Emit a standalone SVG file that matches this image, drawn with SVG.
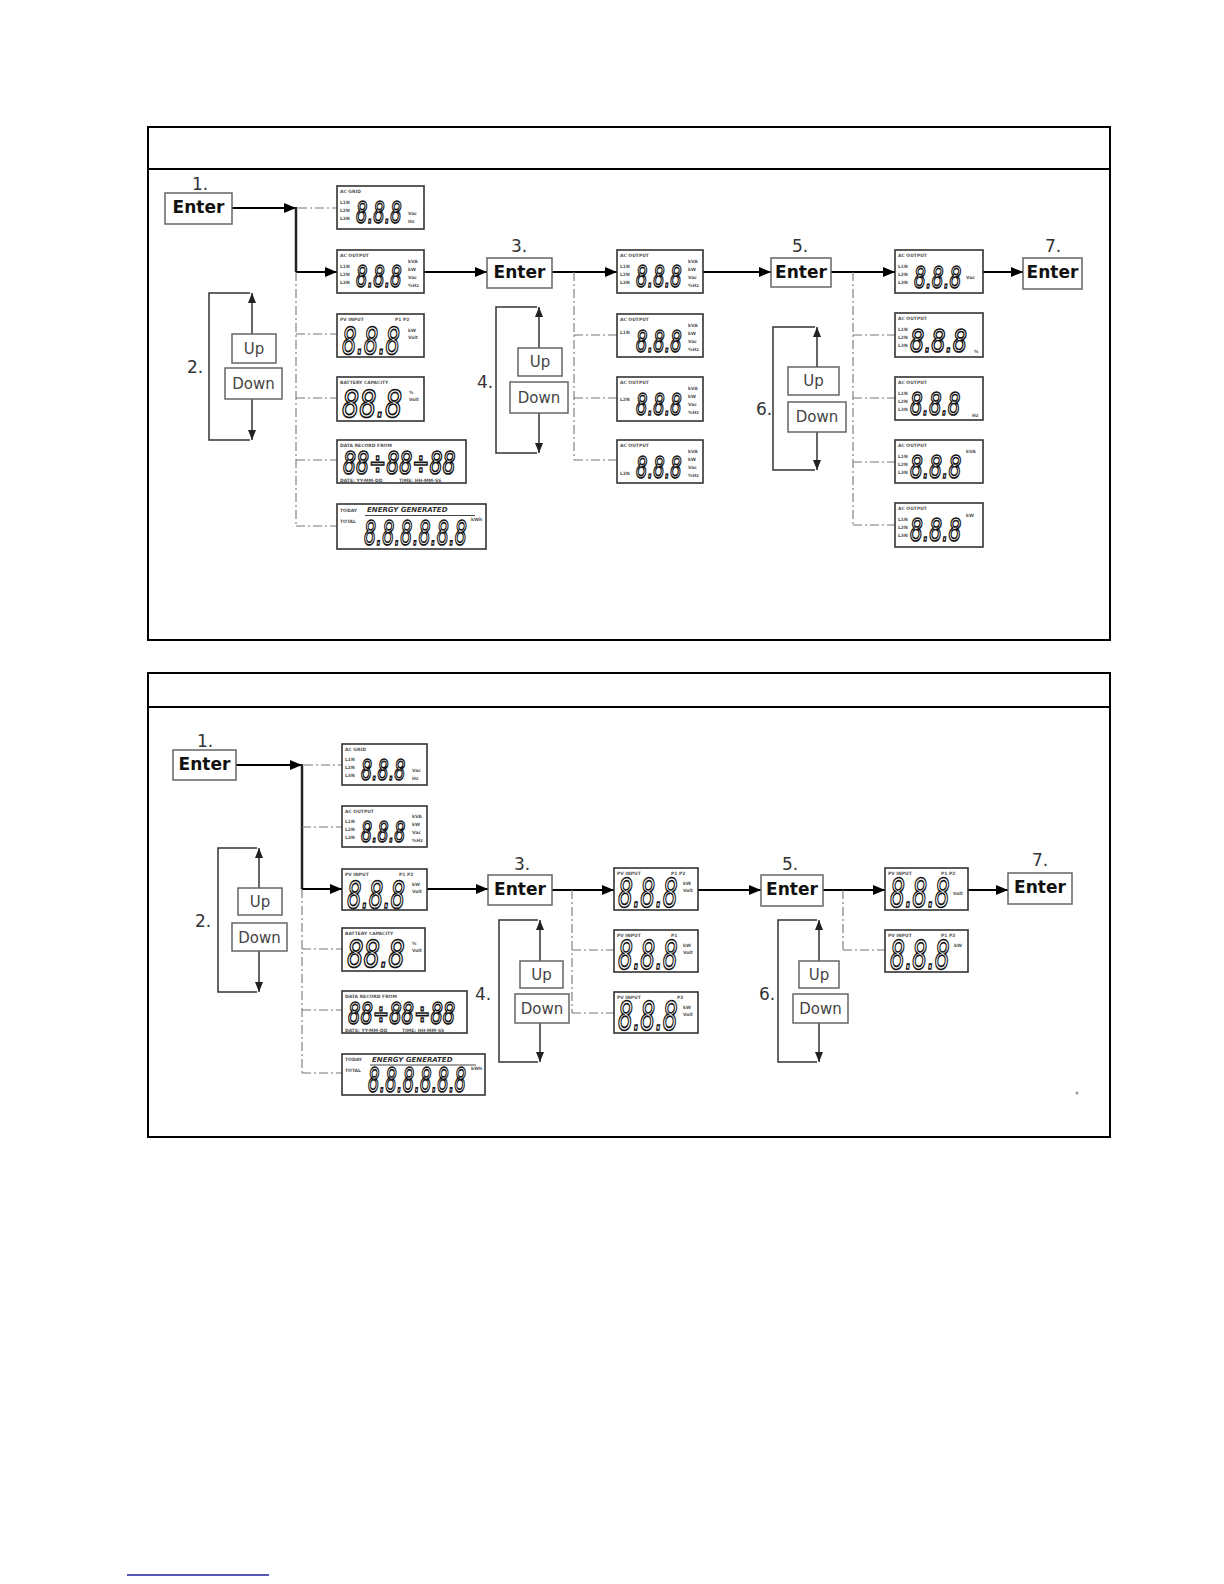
<svg xmlns="http://www.w3.org/2000/svg" width="1224" height="1584" viewBox="0 0 1224 1584">
<style>
.panel{fill:none;stroke:#000;stroke-width:2}
.lcd{fill:#fff;stroke:#333;stroke-width:1.6}
.btn{fill:#fff;stroke:#666;stroke-width:1.5}
.enter{font-family:"DejaVu Sans",sans-serif;font-weight:bold;font-size:17px;fill:#111}
.ud{font-family:"DejaVu Sans",sans-serif;font-size:15px;fill:#444}
.num{font-family:"DejaVu Sans",sans-serif;font-size:17px;fill:#333}
.t{font-family:"DejaVu Sans",sans-serif;font-size:4.5px;font-weight:bold;fill:#555}
.tb{font-family:"DejaVu Sans",sans-serif;font-size:7px;font-weight:bold;font-style:italic;fill:#333}
.seg{font-family:"DejaVu Sans",sans-serif;font-style:oblique;fill:#fff;stroke:#111;stroke-width:1.7;opacity:0.99}
.main{stroke:#000;stroke-width:2;fill:none}
.vert{stroke:#222;stroke-width:2.5;fill:none}
.dd{stroke:#777;stroke-width:1.1;stroke-dasharray:9 3 2 3;fill:none}
.br{stroke:#333;stroke-width:1.5;fill:none}
</style>
<defs>
<marker id="ah" markerWidth="12" markerHeight="10" refX="12" refY="5" orient="auto" markerUnits="userSpaceOnUse"><path d="M0,0L12,5L0,10z" fill="#000"/></marker>
<marker id="sh" markerWidth="10" markerHeight="8" refX="10" refY="4" orient="auto" markerUnits="userSpaceOnUse"><path d="M0,0L10,4L0,8z" fill="#222"/></marker>
</defs>
<rect width="1224" height="1584" fill="#fff"/>

<g id="panel-top">
<rect class="panel" x="148" y="127" width="962" height="513"/>
<line class="panel" x1="148" y1="169" x2="1110" y2="169"/>
</g>
<g id="panel-bottom">
<rect class="panel" x="148" y="673" width="962" height="464"/>
<line class="panel" x1="148" y1="707" x2="1110" y2="707"/>
</g>

<g id="connectors">
<line class="main" x1="232" y1="208" x2="296" y2="208" marker-end="url(#ah)"/>
<line class="vert" x1="296" y1="207" x2="296" y2="272"/>
<line class="main" x1="296" y1="272" x2="337" y2="272" marker-end="url(#ah)"/>
<line class="dd" x1="296" y1="272" x2="296" y2="526"/>
<line class="dd" x1="298" y1="208" x2="337" y2="208"/>
<line class="dd" x1="296" y1="334" x2="337" y2="334"/>
<line class="dd" x1="296" y1="398" x2="337" y2="398"/>
<line class="dd" x1="296" y1="460" x2="337" y2="460"/>
<line class="dd" x1="296" y1="526" x2="337" y2="526"/>
<line class="main" x1="424" y1="272" x2="487" y2="272" marker-end="url(#ah)"/>
<line class="main" x1="552" y1="272" x2="617" y2="272" marker-end="url(#ah)"/>
<line class="dd" x1="574" y1="272" x2="574" y2="460"/>
<line class="dd" x1="574" y1="335" x2="617" y2="335"/>
<line class="dd" x1="574" y1="398" x2="617" y2="398"/>
<line class="dd" x1="574" y1="460" x2="617" y2="460"/>
<line class="main" x1="703" y1="272" x2="771" y2="272" marker-end="url(#ah)"/>
<line class="main" x1="831" y1="272" x2="895" y2="272" marker-end="url(#ah)"/>
<line class="dd" x1="853" y1="272" x2="853" y2="525"/>
<line class="dd" x1="853" y1="335" x2="895" y2="335"/>
<line class="dd" x1="853" y1="398" x2="895" y2="398"/>
<line class="dd" x1="853" y1="462" x2="895" y2="462"/>
<line class="dd" x1="853" y1="525" x2="895" y2="525"/>
<line class="main" x1="983" y1="272" x2="1023" y2="272" marker-end="url(#ah)"/>
<path class="br" d="M250,293 L209,293 L209,440 L250,440"/>
<line class="br" x1="252" y1="334" x2="252" y2="293" marker-end="url(#sh)"/>
<line class="br" x1="252" y1="399" x2="252" y2="440" marker-end="url(#sh)"/>
<path class="br" d="M537,307 L496,307 L496,453 L537,453"/>
<line class="br" x1="539" y1="348" x2="539" y2="307" marker-end="url(#sh)"/>
<line class="br" x1="539" y1="413" x2="539" y2="453" marker-end="url(#sh)"/>
<path class="br" d="M815,327 L773,327 L773,470 L815,470"/>
<line class="br" x1="817" y1="367" x2="817" y2="327" marker-end="url(#sh)"/>
<line class="br" x1="817" y1="432" x2="817" y2="470" marker-end="url(#sh)"/>

<line class="main" x1="236" y1="765" x2="302" y2="765" marker-end="url(#ah)"/>
<line class="vert" x1="302" y1="764" x2="302" y2="889"/>
<line class="main" x1="302" y1="889" x2="342" y2="889" marker-end="url(#ah)"/>
<line class="dd" x1="302" y1="889" x2="302" y2="1073"/>
<line class="dd" x1="304" y1="765" x2="342" y2="765"/>
<line class="dd" x1="302" y1="827" x2="342" y2="827"/>
<line class="dd" x1="302" y1="949" x2="342" y2="949"/>
<line class="dd" x1="302" y1="1010" x2="342" y2="1010"/>
<line class="dd" x1="302" y1="1073" x2="342" y2="1073"/>
<line class="main" x1="427" y1="889" x2="488" y2="889" marker-end="url(#ah)"/>
<line class="main" x1="552" y1="890" x2="614" y2="890" marker-end="url(#ah)"/>
<line class="dd" x1="572" y1="890" x2="572" y2="1013"/>
<line class="dd" x1="572" y1="950" x2="614" y2="950"/>
<line class="dd" x1="572" y1="1013" x2="614" y2="1013"/>
<line class="main" x1="698" y1="890" x2="761" y2="890" marker-end="url(#ah)"/>
<line class="main" x1="823" y1="890" x2="885" y2="890" marker-end="url(#ah)"/>
<line class="dd" x1="843" y1="890" x2="843" y2="950"/>
<line class="dd" x1="843" y1="950" x2="885" y2="950"/>
<line class="main" x1="968" y1="890" x2="1008" y2="890" marker-end="url(#ah)"/>
<path class="br" d="M257,848 L218,848 L218,992 L257,992"/>
<line class="br" x1="259" y1="888" x2="259" y2="848" marker-end="url(#sh)"/>
<line class="br" x1="259" y1="951" x2="259" y2="992" marker-end="url(#sh)"/>
<path class="br" d="M538,920 L499,920 L499,1062 L538,1062"/>
<line class="br" x1="540" y1="961" x2="540" y2="920" marker-end="url(#sh)"/>
<line class="br" x1="540" y1="1023" x2="540" y2="1062" marker-end="url(#sh)"/>
<path class="br" d="M817,920 L778,920 L778,1062 L817,1062"/>
<line class="br" x1="819" y1="961" x2="819" y2="920" marker-end="url(#sh)"/>
<line class="br" x1="819" y1="1023" x2="819" y2="1062" marker-end="url(#sh)"/>
</g>

<!-- TOP PANEL NODES -->
<g id="t-enter1"><text class="num" x="200" y="190" text-anchor="middle">1.</text><rect class="btn" x="165" y="193" width="67" height="31"/><text class="enter" x="198.5" y="213" text-anchor="middle">Enter</text></g>
<g id="t-updown2"><text class="num" x="187" y="373">2.</text><rect class="btn" x="232" y="334" width="44" height="29"/><text class="ud" x="254" y="354" text-anchor="middle">Up</text><rect class="btn" x="225" y="368" width="57" height="31"/><text class="ud" x="253.5" y="389" text-anchor="middle">Down</text></g>
<g id="t-enter3"><text class="num" x="519" y="252" text-anchor="middle">3.</text><rect class="btn" x="487" y="258" width="65" height="30"/><text class="enter" x="519.5" y="278" text-anchor="middle">Enter</text></g>
<g id="t-updown4"><text class="num" x="477" y="388">4.</text><rect class="btn" x="518" y="348" width="44" height="28"/><text class="ud" x="540" y="367" text-anchor="middle">Up</text><rect class="btn" x="510" y="382" width="58" height="31"/><text class="ud" x="539" y="403" text-anchor="middle">Down</text></g>
<g id="t-enter5"><text class="num" x="800" y="252" text-anchor="middle">5.</text><rect class="btn" x="771" y="258" width="60" height="29"/><text class="enter" x="801" y="278" text-anchor="middle">Enter</text></g>
<g id="t-updown6"><text class="num" x="756" y="415">6.</text><rect class="btn" x="788" y="367" width="51" height="28"/><text class="ud" x="813.5" y="386" text-anchor="middle">Up</text><rect class="btn" x="788" y="402" width="58" height="30"/><text class="ud" x="817" y="422" text-anchor="middle">Down</text></g>
<g id="t-enter7"><text class="num" x="1053" y="252" text-anchor="middle">7.</text><rect class="btn" x="1023" y="258" width="59" height="31"/><text class="enter" x="1052.5" y="278" text-anchor="middle">Enter</text></g>

<g id="t-lcd-acgrid" transform="translate(337,186)">
<rect class="lcd" width="87" height="43"/>
<text class="t" x="3" y="7">AC GRID</text>
<text class="t" x="3" y="18">L1N</text><text class="t" x="3" y="26">L2N</text><text class="t" x="3" y="34">L3N</text>
<text class="seg" transform="translate(19,37) scale(0.6,1)" font-size="30">8.8.8</text>
<text class="t" x="71" y="29">Vac</text><text class="t" x="71" y="37">Hz</text>
</g>
<g id="t-lcd-acoutput" transform="translate(337,250)">
<rect class="lcd" width="87" height="43"/>
<text class="t" x="3" y="7">AC OUTPUT</text>
<text class="t" x="3" y="18">L1N</text><text class="t" x="3" y="26">L2N</text><text class="t" x="3" y="34">L3N</text>
<text class="seg" transform="translate(19,37) scale(0.6,1)" font-size="30">8.8.8</text>
<text class="t" x="71" y="13">kVA</text><text class="t" x="71" y="21">kW</text><text class="t" x="71" y="29">Vac</text><text class="t" x="71" y="37">%Hz</text>
</g>
<g id="t-lcd-pvinput" transform="translate(337,314)">
<rect class="lcd" width="87" height="43"/>
<text class="t" x="3" y="7">PV INPUT</text><text class="t" x="58" y="7">P1 P2</text>
<text class="seg" transform="translate(5,40) scale(0.6,1)" font-size="38">8.8.8</text>
<text class="t" x="71" y="18">kW</text><text class="t" x="71" y="25">Volt</text>
</g>
<g id="t-lcd-battery" transform="translate(337,377)">
<rect class="lcd" width="87" height="44"/>
<text class="t" x="3" y="7">BATTERY CAPACITY</text>
<text class="seg" transform="translate(5,40) scale(0.71,1)" font-size="38">88.8</text>
<text class="t" x="72" y="17">%</text><text class="t" x="72" y="24">Volt</text>
</g>
<g id="t-lcd-datarecord" transform="translate(337,440)">
<rect class="lcd" width="129" height="43"/>
<text class="t" x="3" y="7">DATA RECORD FROM</text>
<text class="seg" transform="translate(6,34) scale(0.64,1)" font-size="32">88÷88÷88</text>
<text class="t" x="3" y="41.5" font-size="4">DATE: YY-MM-DD</text><text class="t" x="62" y="41.5" font-size="4">TIME: HH-MM-SS</text>
</g>
<g id="t-lcd-energy" transform="translate(337,504)">
<rect class="lcd" width="149" height="45"/>
<text class="t" x="3" y="8">TODAY</text>
<text class="tb" x="30" y="8">ENERGY GENERATED</text>
<line x1="28" y1="11.5" x2="138" y2="11.5" stroke="#444" stroke-width="1"/>
<text class="t" x="3" y="19">TOTAL</text>
<text class="seg" transform="translate(27,41) scale(0.56,1)" font-size="34">8.8.8.8.8.8</text>
<text class="t" x="134" y="17">kWh</text>
</g>

<g id="t-lcd-c3-1" transform="translate(617,250)">
<rect class="lcd" width="86" height="43"/>
<text class="t" x="3" y="7">AC OUTPUT</text>
<text class="t" x="3" y="18">L1N</text><text class="t" x="3" y="26">L2N</text><text class="t" x="3" y="34">L3N</text>
<text class="seg" transform="translate(19,37) scale(0.6,1)" font-size="30">8.8.8</text>
<text class="t" x="71" y="13">kVA</text><text class="t" x="71" y="21">kW</text><text class="t" x="71" y="29">Vac</text><text class="t" x="71" y="37">%Hz</text>
</g>
<g id="t-lcd-c3-2" transform="translate(617,314)">
<rect class="lcd" width="86" height="43"/>
<text class="t" x="3" y="7">AC OUTPUT</text>
<text class="t" x="3" y="20">L1N</text>
<text class="seg" transform="translate(19,38) scale(0.6,1)" font-size="30">8.8.8</text>
<text class="t" x="71" y="13">kVA</text><text class="t" x="71" y="21">kW</text><text class="t" x="71" y="29">Vac</text><text class="t" x="71" y="37">%Hz</text>
</g>
<g id="t-lcd-c3-3" transform="translate(617,377)">
<rect class="lcd" width="86" height="44"/>
<text class="t" x="3" y="7">AC OUTPUT</text>
<text class="t" x="3" y="24">L2N</text>
<text class="seg" transform="translate(19,38) scale(0.6,1)" font-size="30">8.8.8</text>
<text class="t" x="71" y="13">kVA</text><text class="t" x="71" y="21">kW</text><text class="t" x="71" y="29">Vac</text><text class="t" x="71" y="37">%Hz</text>
</g>
<g id="t-lcd-c3-4" transform="translate(617,440)">
<rect class="lcd" width="86" height="43"/>
<text class="t" x="3" y="7">AC OUTPUT</text>
<text class="t" x="3" y="35">L3N</text>
<text class="seg" transform="translate(19,38) scale(0.6,1)" font-size="30">8.8.8</text>
<text class="t" x="71" y="13">kVA</text><text class="t" x="71" y="21">kW</text><text class="t" x="71" y="29">Vac</text><text class="t" x="71" y="37">%Hz</text>
</g>

<g id="t-lcd-c5-1" transform="translate(895,250)">
<rect class="lcd" width="88" height="43"/>
<text class="t" x="3" y="7">AC OUTPUT</text>
<text class="t" x="3" y="18">L1N</text><text class="t" x="3" y="26">L2N</text><text class="t" x="3" y="34">L3N</text>
<text class="seg" transform="translate(19,38) scale(0.6,1)" font-size="31">8.8.8</text>
<text class="t" x="71" y="29">Vac</text>
</g>
<g id="t-lcd-c5-2" transform="translate(895,313)">
<rect class="lcd" width="88" height="44"/>
<text class="t" x="3" y="7">AC OUTPUT</text>
<text class="t" x="3" y="18">L1N</text><text class="t" x="3" y="26">L2N</text><text class="t" x="3" y="34">L3N</text>
<text class="seg" transform="translate(15,39) scale(0.7,1)" font-size="32">8.8.8</text>
<text class="t" x="79" y="40">%</text>
</g>
<g id="t-lcd-c5-3" transform="translate(895,377)">
<rect class="lcd" width="88" height="43"/>
<text class="t" x="3" y="7">AC OUTPUT</text>
<text class="t" x="3" y="18">L1N</text><text class="t" x="3" y="26">L2N</text><text class="t" x="3" y="34">L3N</text>
<text class="seg" transform="translate(15,38) scale(0.62,1)" font-size="32">8.8.8</text>
<text class="t" x="77" y="40">Hz</text>
</g>
<g id="t-lcd-c5-4" transform="translate(895,440)">
<rect class="lcd" width="88" height="43"/>
<text class="t" x="3" y="7">AC OUTPUT</text>
<text class="t" x="3" y="18">L1N</text><text class="t" x="3" y="26">L2N</text><text class="t" x="3" y="34">L3N</text>
<text class="seg" transform="translate(15,38) scale(0.63,1)" font-size="32">8.8.8</text>
<text class="t" x="71" y="13">kVA</text>
</g>
<g id="t-lcd-c5-5" transform="translate(895,503)">
<rect class="lcd" width="88" height="44"/>
<text class="t" x="3" y="7">AC OUTPUT</text>
<text class="t" x="3" y="18">L1N</text><text class="t" x="3" y="26">L2N</text><text class="t" x="3" y="34">L3N</text>
<text class="seg" transform="translate(15,38) scale(0.63,1)" font-size="32">8.8.8</text>
<text class="t" x="71" y="14">kW</text>
</g>

<!-- BOTTOM PANEL NODES -->
<g id="b-enter1"><text class="num" x="205" y="747" text-anchor="middle">1.</text><rect class="btn" x="173" y="750" width="63" height="30"/><text class="enter" x="204.5" y="770" text-anchor="middle">Enter</text></g>
<g id="b-updown2"><text class="num" x="195" y="927">2.</text><rect class="btn" x="238" y="888" width="44" height="27"/><text class="ud" x="260" y="907" text-anchor="middle">Up</text><rect class="btn" x="232" y="923" width="55" height="28"/><text class="ud" x="259.5" y="943" text-anchor="middle">Down</text></g>
<g id="b-enter3"><text class="num" x="522" y="870" text-anchor="middle">3.</text><rect class="btn" x="488" y="875" width="64" height="30"/><text class="enter" x="520" y="895" text-anchor="middle">Enter</text></g>
<g id="b-updown4"><text class="num" x="475" y="1000">4.</text><rect class="btn" x="520" y="961" width="43" height="27"/><text class="ud" x="541.5" y="980" text-anchor="middle">Up</text><rect class="btn" x="515" y="994" width="54" height="29"/><text class="ud" x="542" y="1014" text-anchor="middle">Down</text></g>
<g id="b-enter5"><text class="num" x="790" y="870" text-anchor="middle">5.</text><rect class="btn" x="761" y="875" width="62" height="31"/><text class="enter" x="792" y="895" text-anchor="middle">Enter</text></g>
<g id="b-updown6"><text class="num" x="759" y="1000">6.</text><rect class="btn" x="799" y="961" width="40" height="27"/><text class="ud" x="819" y="980" text-anchor="middle">Up</text><rect class="btn" x="793" y="994" width="55" height="29"/><text class="ud" x="820.5" y="1014" text-anchor="middle">Down</text></g>
<g id="b-enter7"><text class="num" x="1040" y="866" text-anchor="middle">7.</text><rect class="btn" x="1008" y="873" width="64" height="31"/><text class="enter" x="1040" y="893" text-anchor="middle">Enter</text></g>

<g id="b-lcd-acgrid" transform="translate(342,744)">
<rect class="lcd" width="85" height="41"/>
<text class="t" x="3" y="7">AC GRID</text>
<text class="t" x="3" y="17">L1N</text><text class="t" x="3" y="25">L2N</text><text class="t" x="3" y="33">L3N</text>
<text class="seg" transform="translate(19,36) scale(0.6,1)" font-size="29">8.8.8</text>
<text class="t" x="70" y="28">Vac</text><text class="t" x="70" y="36">Hz</text>
</g>
<g id="b-lcd-acoutput" transform="translate(342,806)">
<rect class="lcd" width="85" height="41"/>
<text class="t" x="3" y="7">AC OUTPUT</text>
<text class="t" x="3" y="17">L1N</text><text class="t" x="3" y="25">L2N</text><text class="t" x="3" y="33">L3N</text>
<text class="seg" transform="translate(19,36) scale(0.6,1)" font-size="29">8.8.8</text>
<text class="t" x="70" y="12">kVA</text><text class="t" x="70" y="20">kW</text><text class="t" x="70" y="28">Vac</text><text class="t" x="70" y="36">%Hz</text>
</g>
<g id="b-lcd-pvinput" transform="translate(342,869)">
<rect class="lcd" width="85" height="41"/>
<text class="t" x="3" y="7">PV INPUT</text><text class="t" x="57" y="7">P1 P2</text>
<text class="seg" transform="translate(5,39) scale(0.6,1)" font-size="38">8.8.8</text>
<text class="t" x="70" y="17">kW</text><text class="t" x="70" y="24">Volt</text>
</g>
<g id="b-lcd-battery" transform="translate(342,928)">
<rect class="lcd" width="83" height="43"/>
<text class="t" x="3" y="7">BATTERY CAPACITY</text>
<text class="seg" transform="translate(5,39) scale(0.7,1)" font-size="37">88.8</text>
<text class="t" x="70" y="17">%</text><text class="t" x="70" y="24">Volt</text>
</g>
<g id="b-lcd-datarecord" transform="translate(342,991)">
<rect class="lcd" width="125" height="42"/>
<text class="t" x="3" y="7">DATA RECORD FROM</text>
<text class="seg" transform="translate(6,33) scale(0.63,1)" font-size="31">88÷88÷88</text>
<text class="t" x="3" y="40.5" font-size="4">DATE: YY-MM-DD</text><text class="t" x="60" y="40.5" font-size="4">TIME: HH-MM-SS</text>
</g>
<g id="b-lcd-energy" transform="translate(342,1054)">
<rect class="lcd" width="143" height="41"/>
<text class="t" x="3" y="7">TODAY</text>
<text class="tb" x="30" y="7.5">ENERGY GENERATED</text>
<line x1="28" y1="11" x2="134" y2="11" stroke="#444" stroke-width="1"/>
<text class="t" x="3" y="18">TOTAL</text>
<text class="seg" transform="translate(26,38) scale(0.55,1)" font-size="33">8.8.8.8.8.8</text>
<text class="t" x="129" y="16">kWh</text>
</g>

<g id="b-lcd-c3-1" transform="translate(614,868)">
<rect class="lcd" width="84" height="42"/>
<text class="t" x="3" y="7">PV INPUT</text><text class="t" x="57" y="7">P1 P2</text>
<text class="seg" transform="translate(4,39) scale(0.6,1)" font-size="39">8.8.8</text>
<text class="t" x="69" y="17">kW</text><text class="t" x="69" y="24">Volt</text>
</g>
<g id="b-lcd-c3-2" transform="translate(614,930)">
<rect class="lcd" width="84" height="42"/>
<text class="t" x="3" y="7">PV INPUT</text><text class="t" x="57" y="7">P1</text>
<text class="seg" transform="translate(4,39) scale(0.6,1)" font-size="39">8.8.8</text>
<text class="t" x="69" y="17">kW</text><text class="t" x="69" y="24">Volt</text>
</g>
<g id="b-lcd-c3-3" transform="translate(614,992)">
<rect class="lcd" width="84" height="41"/>
<text class="t" x="3" y="7">PV INPUT</text><text class="t" x="63" y="7">P2</text>
<text class="seg" transform="translate(4,38) scale(0.6,1)" font-size="39">8.8.8</text>
<text class="t" x="69" y="17">kW</text><text class="t" x="69" y="24">Volt</text>
</g>
<g id="b-lcd-c5-1" transform="translate(885,868)">
<rect class="lcd" width="83" height="42"/>
<text class="t" x="3" y="7">PV INPUT</text><text class="t" x="56" y="7">P1 P2</text>
<text class="seg" transform="translate(5,39) scale(0.6,1)" font-size="39">8.8.8</text>
<text class="t" x="68" y="27">Volt</text>
</g>
<g id="b-lcd-c5-2" transform="translate(885,930)">
<rect class="lcd" width="83" height="42"/>
<text class="t" x="3" y="7">PV INPUT</text><text class="t" x="56" y="7">P1 P2</text>
<text class="seg" transform="translate(5,39) scale(0.6,1)" font-size="39">8.8.8</text>
<text class="t" x="69" y="17">kW</text>
</g>

<circle cx="1077" cy="1093" r="1.5" fill="#999"/>
<line x1="127" y1="1575" x2="269" y2="1575" stroke="#1f1f99" stroke-width="1.4"/>
</svg>
